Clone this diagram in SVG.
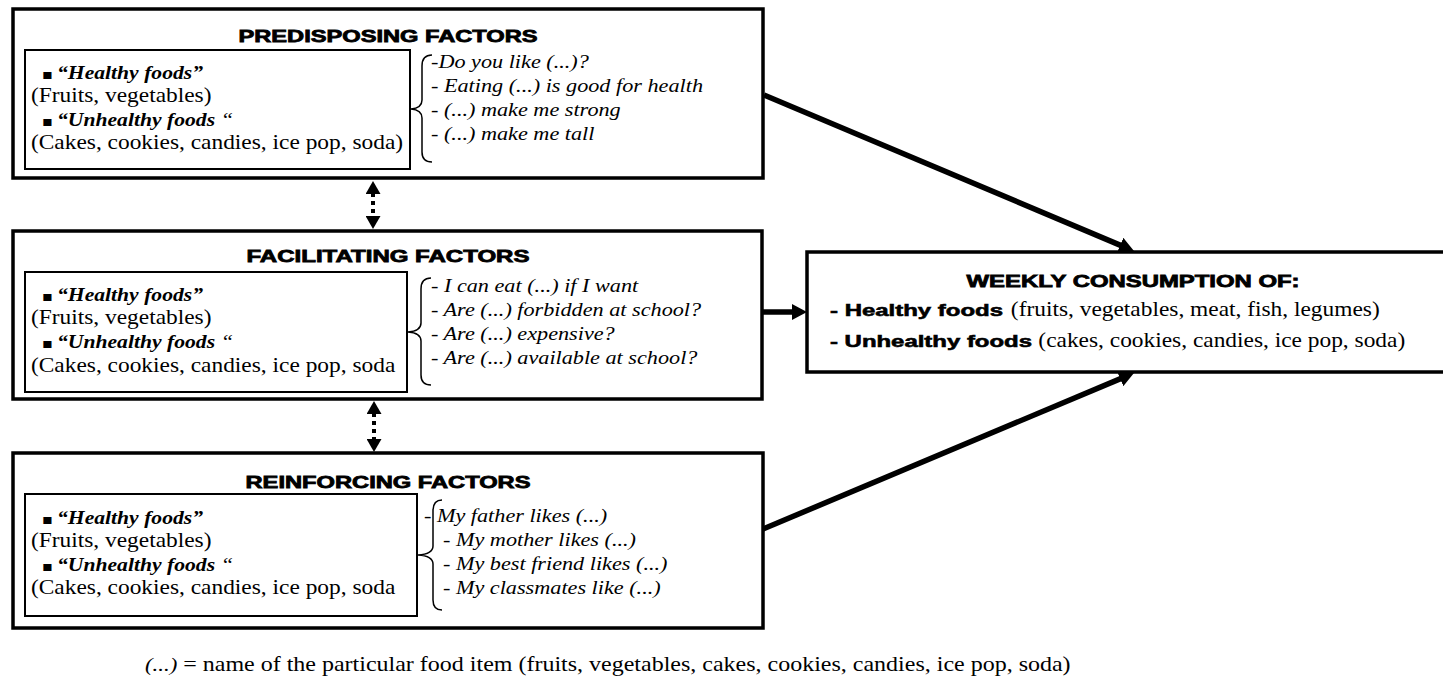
<svg xmlns="http://www.w3.org/2000/svg" width="1443" height="679" viewBox="0 0 1443 679">
  <style>
    .outer { fill: #fff; stroke: #000; stroke-width: 3.5; }
    .inner { fill: #fff; stroke: #000; stroke-width: 2; }
    .title { font-family: "Liberation Sans", Arial, sans-serif; font-weight: bold; font-size: 17px; fill: #000; stroke: #000; stroke-width: 0.8; text-anchor: middle; }
    .hv { font-family: "Liberation Sans", Arial, sans-serif; font-weight: bold; font-size: 17px; fill: #000; stroke: #000; stroke-width: 0.6; }
    .tr { font-family: "Liberation Serif", "Times New Roman", serif; font-size: 20px; fill: #000; }
    .bi { font-family: "Liberation Serif", "Times New Roman", serif; font-size: 18.5px; font-weight: bold; font-style: italic; fill: #000; }
    .it { font-family: "Liberation Serif", "Times New Roman", serif; font-size: 19px; font-style: italic; fill: #000; }
    .blt { font-family: "DejaVu Sans", sans-serif; font-size: 14px; fill: #000; }
    .brace { fill: none; stroke: #000; stroke-width: 1.5; }
    .thick { fill: none; stroke: #000; stroke-width: 5.5; }
    .dots { fill: none; stroke: #000; stroke-width: 4; stroke-dasharray: 4 4; }
  </style>
  <defs>
    <marker id="head" markerUnits="userSpaceOnUse" markerWidth="15" markerHeight="16" refX="5" refY="8" orient="auto" viewBox="0 0 15 16">
      <path d="M0,0 L15,8 L0,16 z" fill="#000"/>
    </marker>
    <marker id="tri" markerUnits="userSpaceOnUse" markerWidth="13" markerHeight="15" refX="1" refY="7.5" orient="auto-start-reverse" viewBox="0 0 13 15">
      <path d="M0,0 L13,7.5 L0,15 z" fill="#000"/>
    </marker>
  </defs>

  <!-- predisposing factors -->
  <g id="predisposing">
    <rect class="outer" x="13" y="9" width="750" height="169"/>
    <text class="title" x="388" y="42" textLength="299" lengthAdjust="spacingAndGlyphs">PREDISPOSING FACTORS</text>
    <rect class="inner" x="25" y="50" width="385" height="119"/>
    <path class="brace" d="M432,55 Q422,55 422,66 L422,100 Q422,108 411,109 Q422,110 422,118 L422,152 Q422,162 432,162"/>
    <!-- serif text is set slightly wide -->
    <g transform="scale(1.17 1)">
      <text x="35.9" y="79"><tspan class="blt">▪</tspan><tspan class="bi" x="48.72">“Healthy foods”</tspan></text>
      <text class="tr" x="26.5" y="102.5">(Fruits, vegetables)</text>
      <text x="35.9" y="126"><tspan class="blt">▪</tspan><tspan class="bi" x="48.72">“Unhealthy foods</tspan><tspan class="it"> “</tspan></text>
      <text class="tr" x="26.5" y="149.5">(Cakes, cookies, candies, ice pop, soda)</text>
      <text class="it" x="368.38" y="68">-Do you like (...)?</text>
      <text class="it" x="368.38" y="92">- Eating (...) is good for health</text>
      <text class="it" x="368.38" y="116">- (...) make me strong</text>
      <text class="it" x="368.38" y="140">- (...) make me tall</text>
    </g>
  </g>

  <!-- facilitating factors -->
  <g id="facilitating">
    <rect class="outer" x="13" y="231" width="749" height="168"/>
    <text class="title" x="388" y="262" textLength="283" lengthAdjust="spacingAndGlyphs">FACILITATING FACTORS</text>
    <rect class="inner" x="25" y="272" width="382" height="120"/>
    <path class="brace" d="M431,278 Q421,278 421,289 L421,323 Q421,331 408,332 Q421,333 421,341 L421,375 Q421,385 431,385"/>
    <g transform="scale(1.17 1)">
      <text x="35.9" y="301"><tspan class="blt">▪</tspan><tspan class="bi" x="48.72">“Healthy foods”</tspan></text>
      <text class="tr" x="26.5" y="324.5">(Fruits, vegetables)</text>
      <text x="35.9" y="348"><tspan class="blt">▪</tspan><tspan class="bi" x="48.72">“Unhealthy foods</tspan><tspan class="it"> “</tspan></text>
      <text class="tr" x="26.5" y="371.5">(Cakes, cookies, candies, ice pop, soda</text>
      <text class="it" x="368.38" y="292">- I can eat (...) if I want</text>
      <text class="it" x="368.38" y="316">- Are (...) forbidden at school?</text>
      <text class="it" x="368.38" y="340">- Are (...) expensive?</text>
      <text class="it" x="368.38" y="364">- Are (...) available at school?</text>
    </g>
  </g>

  <!-- reinforcing factors -->
  <g id="reinforcing">
    <rect class="outer" x="13" y="453" width="750" height="175"/>
    <text class="title" x="388" y="488" textLength="285" lengthAdjust="spacingAndGlyphs">REINFORCING FACTORS</text>
    <rect class="inner" x="25" y="494" width="392" height="122"/>
    <path class="brace" d="M442,500 Q433,500 433,511 L433,546 Q433,554 418,555 Q433,556 433,564 L433,600 Q433,610 442,610"/>
    <g transform="scale(1.17 1)">
      <text x="35.9" y="524"><tspan class="blt">▪</tspan><tspan class="bi" x="48.72">“Healthy foods”</tspan></text>
      <text class="tr" x="26.5" y="547.5">(Fruits, vegetables)</text>
      <text x="35.9" y="571"><tspan class="blt">▪</tspan><tspan class="bi" x="48.72">“Unhealthy foods</tspan><tspan class="it"> “</tspan></text>
      <text class="tr" x="26.5" y="594.5">(Cakes, cookies, candies, ice pop, soda</text>
      <text class="it" x="362.39" y="522">- My father likes (...)</text>
      <text class="it" x="378.63" y="546">- My mother likes (...)</text>
      <text class="it" x="378.63" y="570">- My best friend likes (...)</text>
      <text class="it" x="378.63" y="594">- My classmates like (...)</text>
    </g>
  </g>

  <!-- outcome -->
  <g id="weekly-consumption">
    <rect class="outer" x="807" y="252" width="645" height="120"/>
    <text class="title" x="1133" y="287" textLength="333" lengthAdjust="spacingAndGlyphs">WEEKLY CONSUMPTION OF:</text>
    <text class="hv" x="830" y="316" textLength="173" lengthAdjust="spacingAndGlyphs">- Healthy foods</text>
    <text class="hv" x="830" y="347" textLength="202" lengthAdjust="spacingAndGlyphs">- Unhealthy foods</text>
    <g transform="scale(1.17 1)">
      <text class="tr" x="864" y="316">(fruits, vegetables, meat, fish, legumes)</text>
      <text class="tr" x="887.5" y="347">(cakes, cookies, candies, ice pop, soda)</text>
    </g>
  </g>

  <!-- connectors -->
  <g id="connectors">
    <line class="thick" x1="764" y1="95" x2="1124.8" y2="247.1" marker-end="url(#head)"/>
    <line class="thick" x1="762" y1="312" x2="797" y2="312" marker-end="url(#head)"/>
    <line class="thick" x1="763" y1="529" x2="1124.8" y2="376.9" marker-end="url(#head)"/>
    <line class="dots" x1="373" y1="193" x2="373" y2="217" marker-start="url(#tri)" marker-end="url(#tri)"/>
    <line class="dots" x1="374" y1="413" x2="374" y2="440" marker-start="url(#tri)" marker-end="url(#tri)"/>
  </g>

  <!-- legend -->
  <g transform="scale(1.2 1)">
    <text class="tr" x="120.8" y="671"><tspan class="it">(...)</tspan> = name of the particular food item (fruits, vegetables, cakes, cookies, candies, ice pop, soda)</text>
  </g>
</svg>
